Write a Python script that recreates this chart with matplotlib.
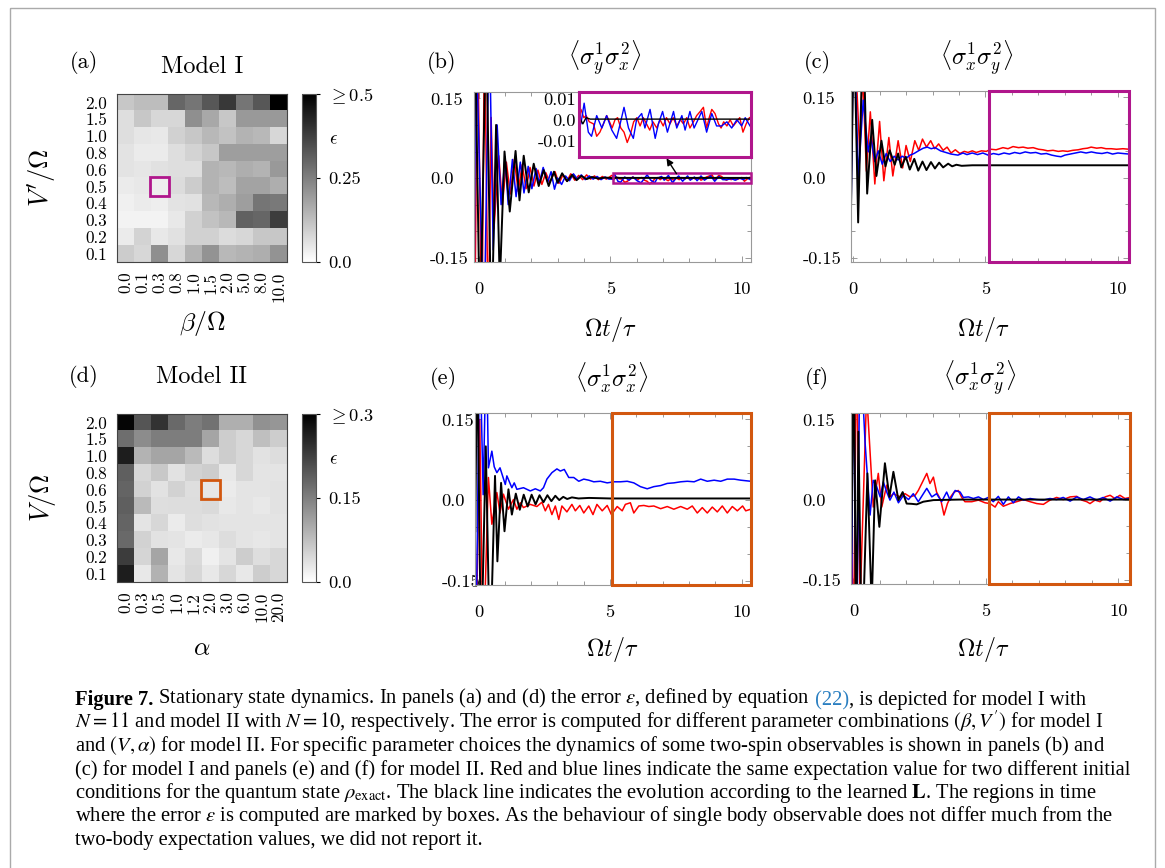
import matplotlib
matplotlib.use("Agg")
import matplotlib.pyplot as plt
from matplotlib.patches import Rectangle

W, H = 1165, 868
plt.rcParams['font.family'] = 'serif'
plt.rcParams['font.serif'] = ['cmr10', 'DejaVu Serif']
plt.rcParams['mathtext.fontset'] = 'cm'
plt.rcParams['axes.unicode_minus'] = False

# ---- heatmap data (rows top->bottom) ----
row_labels = ['2.0', '1.5', '1.0', '0.8', '0.6', '0.5', '0.4', '0.3', '0.2', '0.1']
beta_labels = ['0.0', '0.1', '0.3', '0.8', '1.0', '1.5', '2.0', '5.0', '8.0', '10.0']
alpha_labels = ['0.0', '0.3', '0.5', '1.0', '1.2', '2.0', '3.0', '6.0', '10.0', '20.0']

err_model1 = [
    [0.11, 0.13, 0.13, 0.30, 0.27, 0.33, 0.39, 0.27, 0.33, 0.50],
    [0.065, 0.11, 0.08, 0.08, 0.22, 0.17, 0.11, 0.20, 0.20, 0.20],
    [0.065, 0.05, 0.045, 0.09, 0.11, 0.14, 0.12, 0.15, 0.14, 0.08],
    [0.055, 0.04, 0.04, 0.065, 0.085, 0.11, 0.19, 0.19, 0.19, 0.19],
    [0.055, 0.05, 0.06, 0.065, 0.065, 0.15, 0.14, 0.16, 0.15, 0.20],
    [0.04, 0.045, 0.035, 0.07, 0.10, 0.15, 0.13, 0.18, 0.18, 0.16],
    [0.03, 0.04, 0.035, 0.055, 0.06, 0.14, 0.16, 0.19, 0.27, 0.26],
    [0.025, 0.025, 0.025, 0.045, 0.09, 0.12, 0.14, 0.31, 0.30, 0.38],
    [0.04, 0.085, 0.045, 0.06, 0.09, 0.09, 0.07, 0.08, 0.11, 0.11],
    [0.10, 0.08, 0.22, 0.08, 0.15, 0.21, 0.14, 0.15, 0.16, 0.21],
]
err_model2 = [
    [0.294, 0.20, 0.24, 0.176, 0.153, 0.165, 0.094, 0.094, 0.129, 0.124],
    [0.17, 0.135, 0.153, 0.153, 0.153, 0.106, 0.059, 0.047, 0.076, 0.059],
    [0.265, 0.088, 0.106, 0.106, 0.082, 0.041, 0.059, 0.047, 0.035, 0.041],
    [0.188, 0.047, 0.065, 0.035, 0.053, 0.059, 0.027, 0.047, 0.032, 0.032],
    [0.182, 0.053, 0.035, 0.053, 0.039, 0.029, 0.024, 0.032, 0.032, 0.035],
    [0.188, 0.082, 0.039, 0.041, 0.041, 0.044, 0.027, 0.032, 0.027, 0.035],
    [0.182, 0.032, 0.047, 0.024, 0.039, 0.035, 0.032, 0.032, 0.032, 0.032],
    [0.176, 0.053, 0.035, 0.032, 0.024, 0.029, 0.041, 0.032, 0.029, 0.032],
    [0.229, 0.05, 0.106, 0.027, 0.044, 0.018, 0.032, 0.059, 0.039, 0.047],
    [0.265, 0.027, 0.091, 0.032, 0.047, 0.027, 0.047, 0.027, 0.059, 0.047],
]

# ---- time traces ----
# (b) <s^1_y s^2_x>
b_red_t = [-0.15, -0.05, 0.12, 0.22, 0.36, 0.47, 0.58, 0.76, 0.9, 1.05, 1.2, 1.35, 1.5, 1.65, 1.8,
           1.95, 2.1, 2.25, 2.4, 2.55, 2.7, 2.9, 3.05, 3.2, 3.35, 3.5, 3.65, 3.8, 3.95, 4.1, 4.25,
           4.4, 4.55, 4.7, 4.85,
           5.06, 5.15, 5.22, 5.32, 5.45, 5.55, 5.65, 5.76, 5.86, 5.95, 6.03, 6.12, 6.2, 6.3, 6.4,
           6.5, 6.6, 6.7, 6.8, 6.9, 7.0, 7.1, 7.2, 7.3, 7.42, 7.52, 7.62, 7.72, 7.83, 7.93, 8.04,
           8.15, 8.25, 8.35, 8.45, 8.56, 8.66, 8.77, 8.87, 8.97, 9.05, 9.13, 9.23, 9.34, 9.42, 9.5,
           9.6, 9.7, 9.8, 9.9, 10.0, 10.1, 10.2, 10.3]
b_red_y = [-0.3, 0.3, -0.3, 0.3, -0.3, 0.114, -0.095, 0.042, -0.05, 0.03, -0.03, 0.035, -0.025,
           0.025, -0.02, 0.02, -0.015, 0.015, -0.012, 0.01, -0.008, 0.012, -0.01, 0.006, -0.006,
           0.008, -0.004, 0.005, -0.003, 0.006, -0.002, 0.004, -0.003, 0.003, -0.002,
           0.005, 0.001, 0.002, -0.001, -0.002, -0.008, -0.006, -0.002, 0.002, -0.001, -0.004,
           0.0, 0.001, -0.004, -0.006, -0.011, -0.007, -0.001, 0.001, -0.003, 0.001, -0.002,
           -0.005, -0.001, -0.004, 0.0, -0.003, 0.001, -0.002, 0.001, -0.003, 0.0, -0.002, 0.001,
           -0.004, -0.001, 0.002, 0.004, 0.006, -0.004, 0.001, 0.005, 0.003, -0.002, -0.004,
           -0.001, -0.003, 0.0, -0.003, -0.001, 0.001, -0.006, -0.002, 0.001]
b_blue_t = [-0.18, -0.12, 0.2, 0.4, 0.55, 0.7, 0.85, 1.0, 1.12, 1.28, 1.42, 1.58, 1.72, 1.88,
            2.02, 2.18, 2.3, 2.45, 2.62, 2.75, 2.88, 3.0, 3.15, 3.3, 3.45, 3.6, 3.75, 3.9, 4.05,
            4.2, 4.35, 4.5, 4.65, 4.8, 4.95,
            5.06, 5.16, 5.29, 5.39, 5.55, 5.71, 5.86, 6.02, 6.17, 6.28, 6.4, 6.54, 6.69, 6.79,
            6.95, 7.05, 7.21, 7.37, 7.47, 7.6, 7.75, 7.94, 8.04, 8.2, 8.3, 8.45, 8.58, 8.82, 8.97,
            9.13, 9.28, 9.44, 9.6, 9.75, 9.91, 10.06, 10.17, 10.32]
b_blue_y = [-0.3, 0.3, -0.3, 0.3, -0.135, 0.1, -0.05, 0.04, -0.05, 0.035, -0.035, 0.03, -0.028,
            0.022, -0.02, 0.018, -0.01, 0.02, -0.008, 0.012, -0.021, 0.0, -0.012, 0.004, -0.005,
            0.008, -0.002, 0.006, -0.003, 0.004, -0.002, 0.003, -0.003, 0.002, -0.002,
            -0.002, 0.008, -0.006, -0.008, 0.002, -0.004, 0.002, -0.005, -0.009, -0.002, 0.006,
            -0.004, -0.009, 0.0, 0.003, -0.004, 0.005, -0.009, -0.002, 0.004, -0.006, 0.004,
            -0.004, 0.002, -0.005, 0.004, -0.004, 0.004, -0.006, 0.003, -0.003, -0.003, -0.001,
            -0.004, 0.0, -0.003, 0.001, -0.003]
b_black_t = [-0.15, 0.05, 0.28, 0.48, 0.66, 0.8, 0.98, 1.18, 1.4, 1.55, 1.71, 1.9, 2.09, 2.28,
             2.47, 2.66, 2.86, 3.0, 3.17, 3.36, 3.55, 3.72, 3.9, 4.1, 4.3, 4.55, 4.8, 5.05, 5.12,
             5.22, 5.35, 6.5, 8.0, 10.35]
b_black_y = [0.3, -0.3, 0.3, -0.3, 0.1, -0.2, 0.05, -0.063, 0.051, -0.042, 0.042, -0.027, 0.027,
             -0.015, 0.015, -0.015, 0.012, -0.009, 0.009, -0.006, 0.006, -0.004, 0.004, -0.002,
             0.002, -0.001, 0.001, 0.0, -0.002, 0.001, 0.0003, 0.0003, 0.0003, 0.0003]

# (c) <s^1_x s^2_y>
c_red_t = [-0.1, 0.02, 0.25, 0.36, 0.5, 0.65, 0.82, 1.0, 1.16, 1.35, 1.5, 1.7, 1.87, 2.0, 2.16,
           2.33, 2.48, 2.62, 2.77, 2.93, 3.08, 3.23, 3.4, 3.55, 3.7, 3.86, 4.03, 4.2, 4.34, 4.5,
           4.65, 4.85, 5.03, 5.2, 5.4, 5.66, 5.85, 6.04, 6.25, 6.42, 6.6, 6.8, 7.0, 7.17, 7.35,
           7.55, 7.75, 7.92, 8.1, 8.3, 8.5, 8.68, 8.85, 8.99, 9.2, 9.37, 9.55, 9.75, 9.95, 10.19,
           10.42]
c_red_y = [0.108, 0.3, 0.048, 0.2, 0.012, 0.123, -0.012, 0.105, -0.006, 0.075, 0.003, 0.069,
           0.018, 0.06, 0.03, 0.069, 0.051, 0.072, 0.057, 0.069, 0.054, 0.063, 0.051, 0.057,
           0.046, 0.052, 0.045, 0.049, 0.047, 0.05, 0.047, 0.05, 0.049, 0.053, 0.052, 0.056,
           0.054, 0.058, 0.056, 0.057, 0.055, 0.056, 0.053, 0.052, 0.05, 0.051, 0.049, 0.05,
           0.049, 0.051, 0.052, 0.054, 0.055, 0.057, 0.055, 0.056, 0.054, 0.054, 0.053, 0.054,
           0.053]
c_blue_t = [-0.1, 0.02, 0.2, 0.38, 0.57, 0.67, 0.82, 0.95, 1.1, 1.25, 1.4, 1.55, 1.7, 1.85, 2.0,
            2.15, 2.3, 2.5, 2.65, 2.8, 2.95, 3.1, 3.3, 3.5, 3.7, 3.96, 4.15, 4.3, 4.5, 4.7, 4.9,
            5.1, 5.3, 5.5, 5.7, 5.9, 6.1, 6.3, 6.5, 6.7, 6.9, 7.1, 7.3, 7.5, 7.7, 7.85, 8.0, 8.2,
            8.4, 8.6, 8.8, 9.0, 9.2, 9.4, 9.6, 9.8, 10.0, 10.2, 10.42]
c_blue_y = [-0.148, 0.3, 0.0, 0.145, 0.048, 0.075, 0.03, 0.05, 0.025, 0.045, 0.03, 0.04, 0.033,
            0.04, 0.036, 0.042, 0.045, 0.051, 0.055, 0.057, 0.054, 0.056, 0.05, 0.047, 0.044,
            0.042, 0.046, 0.043, 0.046, 0.043, 0.046, 0.042, 0.045, 0.043, 0.046, 0.044, 0.047,
            0.045, 0.048, 0.046, 0.047, 0.044, 0.045, 0.042, 0.04, 0.039, 0.042, 0.044, 0.046,
            0.048, 0.046, 0.048, 0.046, 0.045, 0.047, 0.044, 0.046, 0.045, 0.044]
c_black_t = [-0.08, 0.03, 0.19, 0.38, 0.53, 0.72, 0.88, 1.07, 1.22, 1.38, 1.57, 1.7, 1.82, 1.99,
             2.14, 2.31, 2.46, 2.62, 2.77, 2.94, 3.09, 3.25, 3.4, 3.59, 3.74, 3.9, 4.1, 4.5, 10.42]
c_black_y = [-0.06, 0.3, -0.084, 0.3, -0.03, 0.108, 0.003, 0.069, 0.021, 0.051, 0.024, 0.045,
             0.019, 0.039, 0.015, 0.035, 0.013, 0.030, 0.014, 0.029, 0.017, 0.028, 0.019, 0.026,
             0.021, 0.024, 0.022, 0.023, 0.023]

# (e) <s^1_x s^2_x>
e_red_t = [-0.1, 0.05, 0.18, 0.38, 0.51, 0.7, 0.82, 0.95, 1.14, 1.33, 1.46, 1.59, 1.71, 1.97,
           2.22, 2.41, 2.54, 2.66, 2.79, 2.92, 3.05, 3.17, 3.36, 3.55, 3.68, 3.85, 4.0, 4.19,
           4.35, 4.5, 4.7, 4.89, 5.05, 5.27, 5.46, 5.58, 5.77, 5.9, 6.09, 6.28, 6.47, 6.66, 6.92,
           7.17, 7.42, 7.68, 7.93, 8.12, 8.31, 8.5, 8.69, 8.88, 9.07, 9.26, 9.45, 9.64, 9.83,
           10.03, 10.15, 10.34]
e_red_y = [-0.3, 0.15, -0.3, 0.042, -0.045, 0.014, -0.024, 0.011, -0.017, 0.001, -0.017, -0.005,
           -0.014, -0.008, -0.012, -0.004, -0.02, -0.008, -0.027, -0.011, -0.036, -0.011, -0.022,
           -0.008, -0.02, -0.01, -0.024, -0.011, -0.027, -0.008, -0.02, -0.01, -0.027, -0.012,
           -0.02, -0.008, -0.005, -0.024, -0.011, -0.01, -0.012, -0.011, -0.016, -0.012, -0.017,
           -0.012, -0.017, -0.011, -0.024, -0.014, -0.024, -0.013, -0.022, -0.011, -0.024,
           -0.012, -0.02, -0.011, -0.02, -0.017]
e_blue_t = [-0.1, 0.05, 0.18, 0.3, 0.38, 0.51, 0.6, 0.7, 0.82, 1.02, 1.08, 1.27, 1.36, 1.46,
            1.71, 1.97, 2.16, 2.35, 2.47, 2.6, 2.79, 2.98, 3.11, 3.26, 3.43, 3.62, 3.81, 4.0,
            4.19, 4.38, 4.63, 4.89, 5.14, 5.39, 5.65, 5.9, 6.15, 6.41, 6.66, 6.92, 7.17, 7.42,
            7.68, 7.93, 8.19, 8.44, 8.69, 8.95, 9.2, 9.45, 9.71, 9.96, 10.34]
e_blue_y = [-0.3, 0.3, 0.01, 0.3, 0.06, 0.091, 0.062, 0.051, 0.06, 0.029, 0.045, 0.023, 0.032,
            0.02, 0.023, 0.017, 0.021, 0.017, 0.023, 0.039, 0.051, 0.058, 0.054, 0.057, 0.042,
            0.042, 0.035, 0.039, 0.037, 0.034, 0.035, 0.032, 0.034, 0.034, 0.035, 0.032, 0.025,
            0.021, 0.025, 0.027, 0.031, 0.032, 0.034, 0.035, 0.034, 0.039, 0.035, 0.037, 0.035,
            0.039, 0.039, 0.037, 0.035]
e_black_t = [-0.12, -0.05, 0.1, 0.28, 0.44, 0.63, 0.72, 0.86, 0.99, 1.14, 1.27, 1.42, 1.57,
             1.72, 1.87, 2.02, 2.17, 2.32, 2.47, 2.62, 2.77, 2.92, 3.07, 3.22, 3.37, 3.55, 3.8,
             4.2, 5.0, 10.35]
e_black_y = [-0.058, 0.3, -0.3, 0.1, -0.3, 0.045, -0.114, 0.032, -0.058, 0.02, -0.027, 0.012,
             -0.018, 0.01, -0.012, 0.01, -0.008, 0.009, -0.004, 0.009, -0.002, 0.008, 0.0, 0.006,
             0.002, 0.005, 0.003, 0.004, 0.003, 0.003]

# (f) <s^1_x s^2_y>
f_red_t = [-0.08, 0.0, 0.12, 0.25, 0.5, 0.75, 0.94, 1.07, 1.26, 1.38, 1.51, 1.76, 1.95, 2.14,
           2.33, 2.45, 2.77, 2.89, 3.02, 3.14, 3.3, 3.42, 3.55, 3.67, 3.8, 3.96, 4.09, 4.21,
           4.47, 4.72, 4.97, 5.16, 5.35, 5.47, 5.66, 5.91, 6.16, 6.42, 6.67, 6.92, 7.17, 7.42,
           7.67, 7.92, 8.18, 8.43, 8.62, 8.81, 8.93, 9.12, 9.31, 9.5, 9.69, 9.87, 10.06, 10.25,
           10.44]
f_red_y = [0.0, -0.3, 0.3, -0.2, 0.2, -0.014, 0.049, -0.014, 0.027, 0.005, 0.011, 0.005, 0.011,
           0.005, 0.008, 0.017, 0.049, 0.03, 0.042, 0.014, -0.001, -0.029, -0.0075, 0.005, 0.014,
           0.017, 0.004, -0.004, -0.004, -0.001, -0.006, -0.0075, -0.014, -0.004, -0.0125,
           -0.0075, -0.004, 0.0, -0.004, -0.0075, -0.009, -0.001, 0.004, 0.0, 0.005, 0.006,
           -0.001, -0.004, -0.0075, -0.001, -0.004, 0.005, 0.008, 0.002, 0.008, 0.002, 0.004]
f_blue_t = [-0.08, 0.0, 0.12, 0.25, 0.44, 0.63, 0.75, 0.88, 1.01, 1.13, 1.26, 1.38, 1.53, 1.7,
            1.89, 2.08, 2.26, 2.45, 2.77, 2.96, 3.14, 3.33, 3.52, 3.65, 3.84, 4.03, 4.15, 4.34,
            4.53, 4.72, 4.91, 5.09, 5.28, 5.47, 5.66, 5.85, 6.04, 6.23, 6.42, 6.67, 6.92, 7.17,
            7.42, 7.67, 7.92, 8.18, 8.43, 8.68, 8.93, 9.18, 9.43, 9.69, 9.94, 10.19, 10.44]
f_blue_y = [-0.3, 0.3, -0.3, 0.3, 0.108, -0.029, 0.036, 0.024, 0.005, 0.033, 0.014, -0.001,
            0.014, -0.006, 0.008, 0.0, 0.011, -0.004, 0.021, 0.005, 0.011, -0.004, 0.014, -0.001,
            0.017, 0.014, 0.004, 0.005, 0.002, 0.005, 0.0, 0.004, -0.004, 0.006, -0.009, 0.005,
            -0.006, 0.005, -0.001, 0.002, 0.0, -0.001, 0.002, 0.0, 0.004, -0.003, 0.005, 0.0,
            0.005, -0.001, 0.004, -0.003, 0.005, 0.0, 0.002]
f_black_t = [-0.08, 0.02, 0.1, 0.19, 0.32, 0.53, 0.69, 0.82, 0.98, 1.19, 1.36, 1.51, 1.7, 1.86,
             2.01, 2.2, 2.39, 2.64, 3.02, 4.0, 10.44]
f_black_y = [-0.1, 0.3, -0.3, 0.127, -0.3, 0.049, -0.2, 0.036, -0.051, 0.068, 0.005, 0.052,
             -0.001, 0.014, -0.0075, -0.008, -0.009, -0.004, -0.001, 0.0, 0.0]

MAGENTA = '#b0168c'
ORANGE = '#d2570f'
TICK_FS = 13.3
HM_FS = 12.3


def rect(x0, y0, x1, y1):
    return [x0 / W, 1 - y1 / H, (x1 - x0) / W, (y1 - y0) / H]


fig = plt.figure(figsize=(W / 100, H / 100), dpi=100)


def heatmap(box, cbox, data, xlabels, vmax, cb_labels, eps_val, sel, color):
    ax = fig.add_axes(rect(*box))
    im = ax.imshow(data, cmap='gray_r', vmin=0, vmax=vmax, aspect='auto',
                   interpolation='nearest')
    ax.set_xticks(range(10))
    ax.set_xticklabels(xlabels)
    ax.set_yticks(range(10))
    ax.set_yticklabels(row_labels)
    ax.set_xticks([0, 2, 4, 6, 8], minor=True)
    ax.set_yticks([0, 2, 4, 6, 8], minor=True)
    ax.tick_params(which='major', length=0, labelsize=HM_FS)
    ax.tick_params(axis='x', pad=7, labelrotation=90)
    ax.tick_params(axis='y', pad=7)
    ax.tick_params(which='minor', direction='out', length=3, width=0.8,
                   top=True, bottom=True, left=True)
    for s in ax.spines.values():
        s.set_color('#444')
        s.set_linewidth(0.8)
    c, r = sel
    ax.add_patch(Rectangle((c - 0.55, r - 0.55), 1.1, 1.1, fill=False,
                           ec=color, lw=2.0, zorder=5))
    cax = fig.add_axes(rect(*cbox))
    cb = fig.colorbar(im, cax=cax, ticks=[0, vmax / 2, vmax])
    cax.set_yticklabels(cb_labels)
    cax.tick_params(length=3, width=0.8, pad=6, labelsize=TICK_FS)
    cb.outline.set_edgecolor('#555')
    cb.outline.set_linewidth(0.8)
    cax.text(1.93, eps_val, r'$\epsilon$', transform=cax.get_yaxis_transform(),
             ha='left', va='center', fontsize=TICK_FS)
    return ax


heatmap((117, 94, 287, 262), (302, 94, 316, 262), err_model1, beta_labels, 0.5,
        ['0.0', '0.25', r'$\geq 0.5$'], 0.363, (2, 5), MAGENTA)
heatmap((117, 414, 287, 582), (302, 414, 316, 582), err_model2, alpha_labels, 0.3,
        ['0.0', '0.15', r'$\geq 0.3$'], 0.218, (5, 4), ORANGE)


def panel(box, curves, xlim, ypad):
    ax = fig.add_axes(rect(*box))
    for t, y, c, lw in curves:
        ax.plot(t, y, color=c, lw=lw)
    ax.set_xlim(*xlim)
    ax.set_ylim(-0.158, 0.162)
    ax.set_xticks([0, 5, 10])
    ax.set_xticklabels(['0', '5', '10'])
    ax.set_yticks([-0.15, 0.0, 0.15])
    ax.set_yticklabels(['-0.15', '0.0', '0.15'])
    ax.set_xticks(range(11), minor=True)
    ax.set_yticks([-0.15, -0.1, -0.05, 0.0, 0.05, 0.1, 0.15], minor=True)
    ax.tick_params(which='both', direction='in', top=True, right=True,
                   color='#999', width=0.7)
    ax.tick_params(which='major', length=4, labelsize=TICK_FS)
    ax.tick_params(which='minor', length=3)
    ax.tick_params(axis='x', pad=14)
    ax.tick_params(axis='y', pad=ypad)
    for lb in ax.get_yticklabels():
        lb.set_horizontalalignment('left')
    for s in ax.spines.values():
        s.set_color('#999')
        s.set_linewidth(0.8)
    return ax


def mark(ax, x0, color):
    x1 = ax.get_xlim()[1]
    ax.add_patch(Rectangle((x0, 0), x1 - x0, 1, transform=ax.get_xaxis_transform(),
                           fill=False, ec=color, lw=2.2, clip_on=False, zorder=6))


b_curves = [(b_red_t, b_red_y, 'red', 1.1), (b_blue_t, b_blue_y, 'blue', 1.1),
            (b_black_t, b_black_y, 'black', 1.4)]
ax_b = panel((474, 92, 751, 262), b_curves, (-0.18, 10.35), 31.5)
ax_b.add_patch(Rectangle((5.1, -0.009), 10.35 - 5.1, 0.019, fill=False, ec=MAGENTA,
                         lw=1.8, clip_on=False, zorder=6))

ax_c = panel((851, 91, 1129, 262),
             [(c_red_t, c_red_y, 'red', 1.1), (c_blue_t, c_blue_y, 'blue', 1.1),
              (c_black_t, c_black_y, 'black', 1.4)], (-0.08, 10.42), 35)
mark(ax_c, 5.12, MAGENTA)

ax_e = panel((475, 413, 751, 585),
             [(e_red_t, e_red_y, 'red', 1.1), (e_blue_t, e_blue_y, 'blue', 1.1),
              (e_black_t, e_black_y, 'black', 1.4)], (-0.13, 10.35), 24)
mark(ax_e, 5.08, ORANGE)

ax_f = panel((851, 413, 1130, 584),
             [(f_red_t, f_red_y, 'red', 1.1), (f_blue_t, f_blue_y, 'blue', 1.1),
              (f_black_t, f_black_y, 'black', 1.4)], (-0.09, 10.44), 35)
mark(ax_f, 5.12, ORANGE)

# inset of (b)
ins = fig.add_axes(rect(579, 92, 751, 157))
for t, y, c, lw in b_curves:
    ins.plot(t, y, color=c, lw=1.0)
ins.set_xlim(5.0, 10.35)
ins.set_ylim(-0.018, 0.0134)
ins.set_xticks([])
ins.set_yticks([-0.01, 0.0, 0.01])
ins.set_yticklabels(['-0.01', '0.0', '0.01'])
ins.tick_params(length=0, pad=2, labelsize=TICK_FS)
for s in ins.spines.values():
    s.set_color(MAGENTA)
    s.set_linewidth(2.2)

# overlay in pixel coordinates for labels, caption, frame
cap = fig.add_axes([0, 0, 1, 1], zorder=10)
cap.set_xlim(0, W)
cap.set_ylim(H, 0)
cap.axis('off')

cap.add_patch(Rectangle((10, 8), 1145, 900, fill=False, ec='#aaaaaa', lw=1, clip_on=False))
cap.annotate('', xy=(665, 156), xytext=(678, 176),
             arrowprops=dict(arrowstyle='-|>', color='k', lw=1, mutation_scale=10))

for x, y, s in [(84, 63, '(a)'), (84, 376, '(d)'), (442, 62, '(b)'), (817, 62, '(c)'),
                (443, 378, '(e)'), (817, 378, '(f)')]:
    cap.text(x, y, s, ha='center', va='center', fontsize=16)
cap.text(202, 67, 'Model I', ha='center', va='center', fontsize=17.5)
cap.text(202, 377, 'Model II', ha='center', va='center', fontsize=17.5)
for x, y, s in [(605, 58, r'$\langle\sigma_y^1\sigma_x^2\rangle$'),
                (977, 58, r'$\langle\sigma_x^1\sigma_y^2\rangle$'),
                (612, 378, r'$\langle\sigma_x^1\sigma_x^2\rangle$'),
                (980, 378, r'$\langle\sigma_x^1\sigma_y^2\rangle$')]:
    cap.text(x, y, s, ha='center', va='center', fontsize=17.5)
for x, y in [(610, 330), (983, 330), (612, 650), (983, 650)]:
    cap.text(x, y, r'$\Omega t/\tau$', ha='center', va='center', fontsize=17.3)
cap.text(202, 323, r'$\beta/\Omega$', ha='center', va='center', fontsize=18.5)
cap.text(202, 648, r'$\alpha$', ha='center', va='center', fontsize=18.5)
cap.text(42, 178, r"$V'/\Omega$", ha='center', va='center', fontsize=19, rotation=90)
cap.text(42, 498, r'$V/\Omega$', ha='center', va='center', fontsize=19, rotation=90)

# caption
fs = 14.8
ckw = dict(family='Liberation Serif', fontsize=fs, math_fontfamily='stix')
t1 = cap.text(75, 705, 'Figure 7.', fontweight='bold', va='baseline', **ckw)
t2 = cap.annotate(r' Stationary state dynamics. In panels (a) and (d) the error $\epsilon$, '
                  r'defined by equation', xy=(1, 0), xycoords=t1, va='bottom', **ckw)
t3 = cap.annotate(' (22)', xy=(1, 0), xycoords=t2, va='bottom', color='#2a7fc1', **ckw)
cap.annotate(', is depicted for model I with', xy=(1, 0), xycoords=t3, va='bottom', **ckw)
caption_lines = [
    r'$N = 11$ and model II with $N = 10$, respectively. The error is computed for different '
    r"parameter combinations $(\beta, V')$ for model I",
    r'and $(V, \alpha)$ for model II. For specific parameter choices the dynamics of some '
    r'two-spin observables is shown in panels (b) and',
    '(c) for model I and panels (e) and (f) for model II. Red and blue lines indicate the same '
    'expectation value for two different initial',
    r'conditions for the quantum state $\rho_{\mathrm{exact}}$. The black line indicates the '
    r'evolution according to the learned $\mathbf{L}$. The regions in time',
    r'where the error $\epsilon$ is computed are marked by boxes. As the behaviour of single '
    r'body observable does not differ much from the',
    'two-body expectation values, we did not report it.',
]
for yb, line in zip([728, 751, 775, 798, 821, 845], caption_lines):
    cap.text(75, yb, line, va='baseline', **ckw)

fig.savefig('out.png', dpi=100)
